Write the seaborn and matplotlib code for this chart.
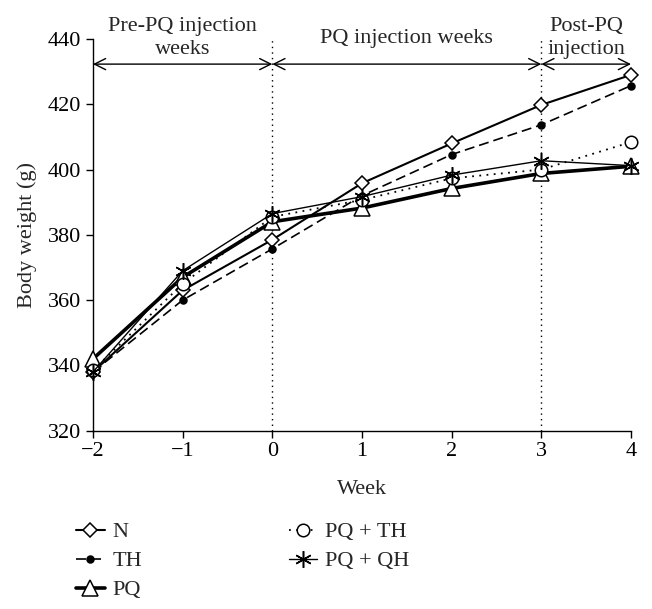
import pandas as pd
import seaborn as sns
import matplotlib.pyplot as plt

# dados (peso corporal em g por semana)
semanas = [-2, -1, 0, 1, 2, 3, 4]
peso_n = [338, 363, 378.5, 395.8, 408, 419.8, 429]
peso_th = [338, 360, 375.7, 392, 404.6, 413.7, 425.7]
peso_pq = [342, 367, 384, 388.2, 394.2, 398.8, 401]
peso_pq_th = [338.5, 365, 385.5, 390.7, 397.3, 400, 408.4]
peso_pq_qh = [338, 369, 386.5, 391.7, 398.3, 402.7, 401.2]

grupos = ['N', 'TH', 'PQ', 'PQ + TH', 'PQ + QH']

# periodos do experimento (limites em semanas)
periodos = [(-2, 0), (0, 3), (3, 4)]
rotulos_periodo = ['Pre-PQ injection\nweeks', 'PQ injection weeks', 'Post-PQ\ninjection']

sns.set_style('ticks')
plt.rcParams['font.family'] = ['Liberation Serif', 'DejaVu Serif']
plt.rcParams['font.size'] = 16

fig = plt.figure(figsize=(6.52, 6.09), dpi=100)
ax = fig.add_axes([0.1426, 0.2928, 0.8252, 0.6432])

estilos = {
    'N': dict(y=peso_n, marker='D', markersize=7, markerfacecolor='white', linewidth=1.5, linestyle='-'),
    'TH': dict(y=peso_th, marker='o', markersize=5, markerfacecolor='black', linewidth=1.2, linestyle=(0, (6, 3))),
    'PQ': dict(y=peso_pq, marker='^', markersize=11, markerfacecolor='white', linewidth=2.6, linestyle='-'),
    'PQ + TH': dict(y=peso_pq_th, marker='o', markersize=9, markerfacecolor='white', linewidth=1.3, linestyle=(0, (1, 3))),
    'PQ + QH': dict(y=peso_pq_qh, marker=(6, 2, 0), markersize=12, markerfacecolor='black', linewidth=1.0, linestyle='-'),
}

for g in grupos:
    e = dict(estilos[g])
    y = e.pop('y')
    sns.lineplot(x=semanas, y=y, ax=ax, color='black', markeredgecolor='black',
                 markeredgewidth=1.1, label=g, clip_on=False, zorder=3, **e)

# linhas verticais pontilhadas nas transicoes
for xv in [0, 3]:
    ax.axvline(xv, color='black', linestyle=(0, (1, 3)), linewidth=1.0)

# setas dos periodos
y_seta = 432.3
for (a, b), txt in zip(periodos, rotulos_periodo):
    ax.annotate('', xy=(a, y_seta), xytext=(b, y_seta),
                arrowprops=dict(arrowstyle='<->', color='black', lw=1.0,
                                shrinkA=0, shrinkB=0, mutation_scale=20))
    ax.text((a + b) / 2, 440.2, txt, ha='center', va='center', fontsize=16, linespacing=1.3)

ax.set_xlim(-2, 4)
ax.set_ylim(320, 440)
ax.set_xticks(semanas)
ax.set_yticks(range(320, 441, 20))
ax.set_xlabel('Week', fontsize=16, labelpad=13)
ax.set_ylabel('Body weight (g)', fontsize=16, labelpad=8)
ax.tick_params(direction='out', length=5, width=1, labelsize=16, colors='black')
sns.despine(ax=ax)
for s in ['left', 'bottom']:
    ax.spines[s].set_linewidth(1.0)
    ax.spines[s].set_color('black')

handles, labels = ax.get_legend_handles_labels()
ax.get_legend().remove()
fig.legend(handles, labels, ncol=2, loc='upper left', bbox_to_anchor=(0.116, 0.143),
           frameon=False, handlelength=1.3, columnspacing=6.6, labelspacing=0.38,
           fontsize=16, handletextpad=0.35, borderpad=0, borderaxespad=0)

plt.savefig('out.png', dpi=100)
